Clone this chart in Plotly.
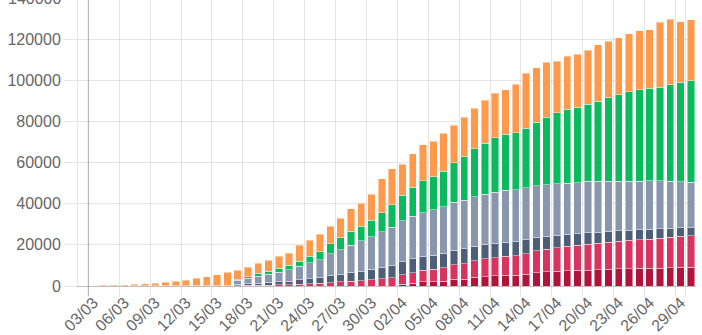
import plotly.graph_objects as go

dates = ["02/03", "03/03", "04/03", "05/03", "06/03", "07/03", "08/03", "09/03", "10/03", "11/03",
         "12/03", "13/03", "14/03", "15/03", "16/03", "17/03", "18/03", "19/03", "20/03", "21/03",
         "22/03", "23/03", "24/03", "25/03", "26/03", "27/03", "28/03", "29/03", "30/03", "31/03",
         "01/04", "02/04", "03/04", "04/04", "05/04", "06/04", "07/04", "08/04", "09/04", "10/04",
         "11/04", "12/04", "13/04", "14/04", "15/04", "16/04", "17/04", "18/04", "19/04", "20/04",
         "21/04", "22/04", "23/04", "24/04", "25/04", "26/04", "27/04", "28/04", "29/04", "30/04"]

tick_labels = ["03/03", "06/03", "09/03", "12/03", "15/03", "18/03", "21/03", "24/03", "27/03", "30/03",
               "02/04", "05/04", "08/04", "11/04", "14/04", "17/04", "20/04", "23/04", "26/04", "29/04"]

deaths_ehpad = [0, 0, 0, 0, 0, 0, 0, 0, 0, 0, 0, 0, 0, 0, 0, 0, 0, 0, 0, 0,
                0, 0, 0, 0, 0, 0, 0, 0, 0, 0, 0, 884, 1416, 2028, 2189, 2417, 3237, 3253, 4166, 4599,
                4889, 5140, 5140, 5600, 6524, 6860, 7203, 7481, 7649, 7752, 7896, 8104, 8309, 8393, 8564,
                8654, 8656, 8850, 9034, 9154]

deaths_hospital = [3, 4, 4, 6, 9, 16, 19, 25, 33, 48, 61, 79, 91, 127, 148, 175, 264, 372, 450, 562,
                   674, 860, 1100, 1331, 1696, 1995, 2314, 2606, 3024, 3523, 4032, 4503, 5091, 5532, 5889,
                   6494, 7091, 7632, 8044, 8598, 8943, 9253, 9588, 10129, 10643, 11060, 11478, 11842, 12069,
                   12513, 12900, 13236, 13547, 13852, 14050, 14202, 14637, 14810, 15053, 15222]

icu = [0, 0, 0, 0, 0, 0, 0, 0, 0, 0, 0, 0, 0, 0, 0, 699, 771, 1002, 1297, 1525,
       1746, 2082, 2516, 2827, 3375, 3787, 4273, 4632, 5107, 5565, 6017, 6399, 6662, 6838, 6978,
       7072, 7131, 7148, 7066, 7004, 6883, 6821, 6845, 6730, 6599, 6248, 6027, 5833, 5744, 5683,
       5433, 5218, 5053, 4870, 4725, 4682, 4608, 4387, 4207, 4019]

hospitalised = [0, 0, 0, 0, 0, 0, 0, 0, 0, 0, 0, 0, 0, 0, 0, 1880, 2855, 3459, 3929, 4647,
                5494, 6591, 7660, 8712, 10529, 11945, 13347, 14722, 15839, 17192, 18622, 19847, 20770,
                21305, 21913, 22497, 23244, 23619, 24239, 24316, 24896, 25471, 25268, 25421, 24894, 24982,
                25102, 24814, 24838, 25002, 24721, 24392, 24041, 23835, 23611, 23742, 23199, 22903, 22506,
                22065]

returned_home = [0, 0, 0, 0, 0, 0, 0, 0, 0, 0, 0, 0, 0, 0, 0, 602, 650, 1300, 1587, 1800,
                 2200, 2567, 3281, 3900, 4948, 5700, 6624, 7132, 7927, 9444, 10935, 12428, 14008, 15438,
                 16183, 17250, 19337, 21254, 23206, 24932, 26391, 27186, 27718, 28805, 30955, 32812, 34420,
                 35983, 36578, 37409, 38937, 40657, 42088, 43493, 44594, 44903, 45513, 46886, 48228, 49476]

other_cases = [188, 208, 281, 417, 604, 933, 1107, 1387, 1751, 2233, 2815, 3582, 4408, 5296, 6485,
               4374, 4594, 4862, 5349, 5925, 5904, 7756, 7745, 8463, 8607, 9537, 11017, 11082, 12653,
               16404, 17383, 15044, 16391, 17464, 17326, 18660, 18127, 19142, 19613, 20827, 21788, 21532,
               23517, 26888, 26591, 26885, 25022, 25868, 25728, 26298, 27437, 27544, 27766, 28134, 28570,
               28392, 31726, 32023, 29414, 29645]

y_ticks = [0, 20000, 40000, 60000, 80000, 100000, 120000]
y_max = 139100
top_tick = 140000

series = [
    ("Décès EHPAD", deaths_ehpad, "#b0143c"),
    ("Décès hôpital", deaths_hospital, "#d7355f"),
    ("Réanimation", icu, "#4d5e79"),
    ("Hospitalisés", hospitalised, "#8897ad"),
    ("Retours à domicile", returned_home, "#0cba5e"),
    ("Autres cas", other_cases, "#ff9a4c"),
]

fig = go.Figure()
for name, vals, col in series:
    fig.add_trace(go.Bar(
        x=dates, y=vals, name=name,
        marker=dict(color=col, line=dict(color="rgba(255,255,255,0.45)", width=1)),
    ))

grid = "rgba(0,0,0,0.1)"
font_col = "#666666"

fig.update_layout(
    width=702, height=335,
    margin=dict(l=78, r=6, t=0, b=49),
    barmode="stack", bargap=0.28,
    showlegend=False,
    plot_bgcolor="white", paper_bgcolor="white",
    font=dict(family="Liberation Sans, Arial, sans-serif", color=font_col),
    xaxis=dict(
        type="category", categoryorder="array", categoryarray=dates,
        range=[-0.5, len(dates) - 0.5],
        tickmode="array", tickvals=tick_labels, ticktext=tick_labels,
        tickson="boundaries", ticks="outside", ticklen=10, tickcolor=grid,
        showgrid=True, gridcolor=grid, gridwidth=1,
        tickangle=-45, tickfont=dict(size=16, color=font_col),
        showline=True, linecolor="rgba(0,0,0,0.25)", linewidth=1,
        zeroline=False,
    ),
    yaxis=dict(
        range=[0, y_max],
        tickmode="array", tickvals=y_ticks, ticktext=[str(v) for v in y_ticks],
        ticks="outside", ticklen=13, tickcolor=grid,
        showgrid=True, gridcolor=grid, gridwidth=1,
        tickfont=dict(size=16, color=font_col),
        showline=True, linecolor=grid, linewidth=1,
        zeroline=False,
    ),
)

# darker first split line (category boundary before 03/03)
fig.add_shape(type="line", xref="x", yref="paper", x0=0.5, x1=0.5, y0=-10 / 286, y1=1,
              line=dict(color="rgba(0,0,0,0.25)", width=1), layer="below")

# partially visible top tick label (just above the plotting area)
fig.add_annotation(xref="paper", yref="paper", x=0, y=top_tick / y_max, text=str(top_tick),
                   showarrow=False, xanchor="right", yanchor="middle", xshift=-15,
                   font=dict(size=16, color=font_col))

fig.write_html("out.html")
